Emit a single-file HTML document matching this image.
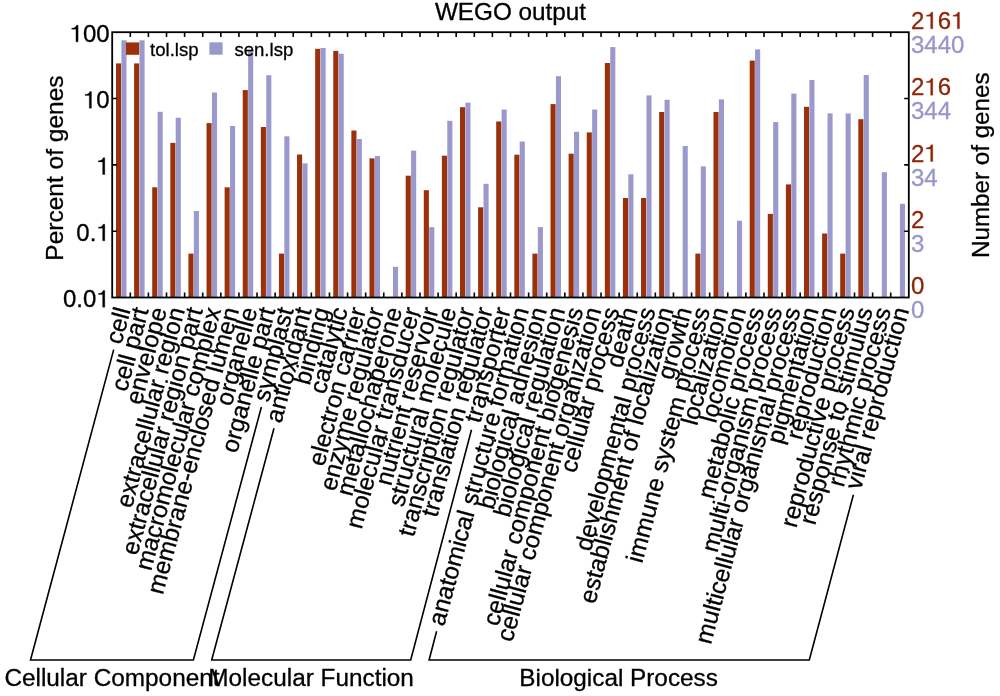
<!DOCTYPE html><html><head><meta charset="utf-8"><style>html,body{margin:0;padding:0;background:#fff;}svg{display:block;will-change:transform;}text{font-family:"Liberation Sans",sans-serif;stroke:#000;stroke-width:0.3;}</style></head><body>
<svg width="1000" height="696" viewBox="0 0 1000 696">
<rect width="1000" height="696" fill="#fff"/>
<rect x="116.00" y="63.4" width="5.1" height="234.1" fill="#9a310b"/>
<rect x="121.40" y="40.3" width="5.1" height="257.2" fill="#9b98cc"/>
<rect x="134.11" y="63.4" width="5.1" height="234.1" fill="#9a310b"/>
<rect x="139.50" y="40.3" width="5.1" height="257.2" fill="#9b98cc"/>
<rect x="152.21" y="187.3" width="5.1" height="110.2" fill="#9a310b"/>
<rect x="157.61" y="111.8" width="5.1" height="185.7" fill="#9b98cc"/>
<rect x="170.31" y="142.9" width="5.1" height="154.6" fill="#9a310b"/>
<rect x="175.71" y="117.7" width="5.1" height="179.8" fill="#9b98cc"/>
<rect x="188.42" y="253.6" width="5.1" height="43.9" fill="#9a310b"/>
<rect x="193.82" y="211.0" width="5.1" height="86.5" fill="#9b98cc"/>
<rect x="206.53" y="123.1" width="5.1" height="174.4" fill="#9a310b"/>
<rect x="211.93" y="92.5" width="5.1" height="205.0" fill="#9b98cc"/>
<rect x="224.63" y="187.3" width="5.1" height="110.2" fill="#9a310b"/>
<rect x="230.03" y="126.0" width="5.1" height="171.5" fill="#9b98cc"/>
<rect x="242.74" y="90.1" width="5.1" height="207.4" fill="#9a310b"/>
<rect x="248.13" y="51.4" width="5.1" height="246.1" fill="#9b98cc"/>
<rect x="260.84" y="127.0" width="5.1" height="170.5" fill="#9a310b"/>
<rect x="266.24" y="75.2" width="5.1" height="222.3" fill="#9b98cc"/>
<rect x="278.94" y="253.6" width="5.1" height="43.9" fill="#9a310b"/>
<rect x="284.34" y="136.3" width="5.1" height="161.2" fill="#9b98cc"/>
<rect x="297.05" y="154.5" width="5.1" height="143.0" fill="#9a310b"/>
<rect x="302.45" y="163.4" width="5.1" height="134.1" fill="#9b98cc"/>
<rect x="315.16" y="48.8" width="5.1" height="248.7" fill="#9a310b"/>
<rect x="320.56" y="48.0" width="5.1" height="249.5" fill="#9b98cc"/>
<rect x="333.26" y="50.9" width="5.1" height="246.6" fill="#9a310b"/>
<rect x="338.66" y="53.7" width="5.1" height="243.8" fill="#9b98cc"/>
<rect x="351.37" y="130.5" width="5.1" height="167.0" fill="#9a310b"/>
<rect x="356.76" y="139.0" width="5.1" height="158.5" fill="#9b98cc"/>
<rect x="369.47" y="158.4" width="5.1" height="139.1" fill="#9a310b"/>
<rect x="374.87" y="156.0" width="5.1" height="141.5" fill="#9b98cc"/>
<rect x="392.97" y="266.8" width="5.1" height="30.7" fill="#9b98cc"/>
<rect x="405.68" y="175.7" width="5.1" height="121.8" fill="#9a310b"/>
<rect x="411.08" y="150.6" width="5.1" height="146.9" fill="#9b98cc"/>
<rect x="423.79" y="190.2" width="5.1" height="107.3" fill="#9a310b"/>
<rect x="429.19" y="227.1" width="5.1" height="70.4" fill="#9b98cc"/>
<rect x="441.89" y="155.7" width="5.1" height="141.8" fill="#9a310b"/>
<rect x="447.29" y="120.8" width="5.1" height="176.7" fill="#9b98cc"/>
<rect x="460.00" y="107.2" width="5.1" height="190.3" fill="#9a310b"/>
<rect x="465.39" y="102.7" width="5.1" height="194.8" fill="#9b98cc"/>
<rect x="478.10" y="207.3" width="5.1" height="90.2" fill="#9a310b"/>
<rect x="483.50" y="183.8" width="5.1" height="113.7" fill="#9b98cc"/>
<rect x="496.20" y="121.5" width="5.1" height="176.0" fill="#9a310b"/>
<rect x="501.60" y="109.5" width="5.1" height="188.0" fill="#9b98cc"/>
<rect x="514.31" y="154.7" width="5.1" height="142.8" fill="#9a310b"/>
<rect x="519.71" y="141.5" width="5.1" height="156.0" fill="#9b98cc"/>
<rect x="532.41" y="253.6" width="5.1" height="43.9" fill="#9a310b"/>
<rect x="537.82" y="227.1" width="5.1" height="70.4" fill="#9b98cc"/>
<rect x="550.52" y="104.1" width="5.1" height="193.4" fill="#9a310b"/>
<rect x="555.92" y="76.2" width="5.1" height="221.3" fill="#9b98cc"/>
<rect x="568.62" y="153.7" width="5.1" height="143.8" fill="#9a310b"/>
<rect x="574.03" y="131.8" width="5.1" height="165.7" fill="#9b98cc"/>
<rect x="586.73" y="132.4" width="5.1" height="165.1" fill="#9a310b"/>
<rect x="592.13" y="109.5" width="5.1" height="188.0" fill="#9b98cc"/>
<rect x="604.84" y="63.0" width="5.1" height="234.5" fill="#9a310b"/>
<rect x="610.24" y="47.1" width="5.1" height="250.4" fill="#9b98cc"/>
<rect x="622.94" y="198.0" width="5.1" height="99.5" fill="#9a310b"/>
<rect x="628.34" y="174.3" width="5.1" height="123.2" fill="#9b98cc"/>
<rect x="641.04" y="198.0" width="5.1" height="99.5" fill="#9a310b"/>
<rect x="646.45" y="95.4" width="5.1" height="202.1" fill="#9b98cc"/>
<rect x="659.15" y="112.0" width="5.1" height="185.5" fill="#9a310b"/>
<rect x="664.55" y="99.8" width="5.1" height="197.7" fill="#9b98cc"/>
<rect x="682.66" y="146.0" width="5.1" height="151.5" fill="#9b98cc"/>
<rect x="695.36" y="253.6" width="5.1" height="43.9" fill="#9a310b"/>
<rect x="700.76" y="166.4" width="5.1" height="131.1" fill="#9b98cc"/>
<rect x="713.47" y="112.0" width="5.1" height="185.5" fill="#9a310b"/>
<rect x="718.87" y="99.4" width="5.1" height="198.1" fill="#9b98cc"/>
<rect x="736.97" y="220.7" width="5.1" height="76.8" fill="#9b98cc"/>
<rect x="749.68" y="60.6" width="5.1" height="236.9" fill="#9a310b"/>
<rect x="755.08" y="49.4" width="5.1" height="248.1" fill="#9b98cc"/>
<rect x="767.78" y="213.9" width="5.1" height="83.6" fill="#9a310b"/>
<rect x="773.18" y="122.1" width="5.1" height="175.4" fill="#9b98cc"/>
<rect x="785.88" y="184.4" width="5.1" height="113.1" fill="#9a310b"/>
<rect x="791.29" y="93.6" width="5.1" height="203.9" fill="#9b98cc"/>
<rect x="803.99" y="106.8" width="5.1" height="190.7" fill="#9a310b"/>
<rect x="809.39" y="80.0" width="5.1" height="217.5" fill="#9b98cc"/>
<rect x="822.10" y="233.5" width="5.1" height="64.0" fill="#9a310b"/>
<rect x="827.50" y="113.4" width="5.1" height="184.1" fill="#9b98cc"/>
<rect x="840.20" y="253.6" width="5.1" height="43.9" fill="#9a310b"/>
<rect x="845.60" y="113.4" width="5.1" height="184.1" fill="#9b98cc"/>
<rect x="858.31" y="119.2" width="5.1" height="178.3" fill="#9a310b"/>
<rect x="863.71" y="75.0" width="5.1" height="222.5" fill="#9b98cc"/>
<rect x="881.81" y="172.2" width="5.1" height="125.3" fill="#9b98cc"/>
<rect x="899.92" y="203.8" width="5.1" height="93.7" fill="#9b98cc"/>
<rect x="112.2" y="32.2" width="796.6" height="265.30" fill="none" stroke="#000" stroke-width="1.8"/>
<path d="M130.31 32.2v4.9M130.31 297.5v-4.9M148.41 32.2v4.9M148.41 297.5v-4.9M166.51 32.2v4.9M166.51 297.5v-4.9M184.62 32.2v4.9M184.62 297.5v-4.9M202.73 32.2v4.9M202.73 297.5v-4.9M220.83 32.2v4.9M220.83 297.5v-4.9M238.94 32.2v4.9M238.94 297.5v-4.9M257.04 32.2v4.9M257.04 297.5v-4.9M275.14 32.2v4.9M275.14 297.5v-4.9M293.25 32.2v4.9M293.25 297.5v-4.9M311.36 32.2v4.9M311.36 297.5v-4.9M329.46 32.2v4.9M329.46 297.5v-4.9M347.56 32.2v4.9M347.56 297.5v-4.9M365.67 32.2v4.9M365.67 297.5v-4.9M383.77 32.2v4.9M383.77 297.5v-4.9M401.88 32.2v4.9M401.88 297.5v-4.9M419.99 32.2v4.9M419.99 297.5v-4.9M438.09 32.2v4.9M438.09 297.5v-4.9M456.19 32.2v4.9M456.19 297.5v-4.9M474.30 32.2v4.9M474.30 297.5v-4.9M492.40 32.2v4.9M492.40 297.5v-4.9M510.51 32.2v4.9M510.51 297.5v-4.9M528.62 32.2v4.9M528.62 297.5v-4.9M546.72 32.2v4.9M546.72 297.5v-4.9M564.83 32.2v4.9M564.83 297.5v-4.9M582.93 32.2v4.9M582.93 297.5v-4.9M601.04 32.2v4.9M601.04 297.5v-4.9M619.14 32.2v4.9M619.14 297.5v-4.9M637.25 32.2v4.9M637.25 297.5v-4.9M655.35 32.2v4.9M655.35 297.5v-4.9M673.46 32.2v4.9M673.46 297.5v-4.9M691.56 32.2v4.9M691.56 297.5v-4.9M709.67 32.2v4.9M709.67 297.5v-4.9M727.77 32.2v4.9M727.77 297.5v-4.9M745.88 32.2v4.9M745.88 297.5v-4.9M763.98 32.2v4.9M763.98 297.5v-4.9M782.09 32.2v4.9M782.09 297.5v-4.9M800.19 32.2v4.9M800.19 297.5v-4.9M818.30 32.2v4.9M818.30 297.5v-4.9M836.40 32.2v4.9M836.40 297.5v-4.9M854.51 32.2v4.9M854.51 297.5v-4.9M872.61 32.2v4.9M872.61 297.5v-4.9M890.72 32.2v4.9M890.72 297.5v-4.9M112.2 98.53h4.6M908.80 98.53h-4.6M112.2 164.85h4.6M908.80 164.85h-4.6M112.2 231.18h4.6M908.80 231.18h-4.6" stroke="#000" stroke-width="1.6" fill="none"/>
<text x="510.5" y="19.8" font-size="24.3" text-anchor="middle">WEGO output</text>
<text x="69.66" y="42.1" font-size="24"> 00</text>
<path transform="translate(69.66,42.10) scale(24,-24)" d="M.262 .01H.352V.705H.285C.26 .628 .195 .585 .085 .58V.535H.262Z" style="fill:#000;stroke:#000;stroke-width:0.0125"/>
<text x="83.00" y="108.4" font-size="24"> 0</text>
<path transform="translate(83.00,108.43) scale(24,-24)" d="M.262 .01H.352V.705H.285C.26 .628 .195 .585 .085 .58V.535H.262Z" style="fill:#000;stroke:#000;stroke-width:0.0125"/>
<text x="96.35" y="174.8" font-size="24"> </text>
<path transform="translate(96.35,174.75) scale(24,-24)" d="M.262 .01H.352V.705H.285C.26 .628 .195 .585 .085 .58V.535H.262Z" style="fill:#000;stroke:#000;stroke-width:0.0125"/>
<text x="76.34" y="241.1" font-size="24">0. </text>
<path transform="translate(96.35,241.08) scale(24,-24)" d="M.262 .01H.352V.705H.285C.26 .628 .195 .585 .085 .58V.535H.262Z" style="fill:#000;stroke:#000;stroke-width:0.0125"/>
<text x="62.99" y="307.4" font-size="24">0.0 </text>
<path transform="translate(96.35,307.40) scale(24,-24)" d="M.262 .01H.352V.705H.285C.26 .628 .195 .585 .085 .58V.535H.262Z" style="fill:#000;stroke:#000;stroke-width:0.0125"/>
<text x="911.00" y="29.1" font-size="24" style="fill:#8e2508;stroke:#8e2508">2 6 </text>
<path transform="translate(924.35,29.10) scale(24,-24)" d="M.262 .01H.352V.705H.285C.26 .628 .195 .585 .085 .58V.535H.262Z" style="fill:#8e2508;stroke:#8e2508;stroke-width:0.0125"/>
<path transform="translate(951.04,29.10) scale(24,-24)" d="M.262 .01H.352V.705H.285C.26 .628 .195 .585 .085 .58V.535H.262Z" style="fill:#8e2508;stroke:#8e2508;stroke-width:0.0125"/>
<text x="911.00" y="53.1" font-size="24" style="fill:#9996c9;stroke:#9996c9">3440</text>
<text x="911.00" y="95.4" font-size="24" style="fill:#8e2508;stroke:#8e2508">2 6</text>
<path transform="translate(924.35,95.43) scale(24,-24)" d="M.262 .01H.352V.705H.285C.26 .628 .195 .585 .085 .58V.535H.262Z" style="fill:#8e2508;stroke:#8e2508;stroke-width:0.0125"/>
<text x="911.00" y="119.4" font-size="24" style="fill:#9996c9;stroke:#9996c9">344</text>
<text x="911.00" y="161.8" font-size="24" style="fill:#8e2508;stroke:#8e2508">2 </text>
<path transform="translate(924.35,161.75) scale(24,-24)" d="M.262 .01H.352V.705H.285C.26 .628 .195 .585 .085 .58V.535H.262Z" style="fill:#8e2508;stroke:#8e2508;stroke-width:0.0125"/>
<text x="911.00" y="185.8" font-size="24" style="fill:#9996c9;stroke:#9996c9">34</text>
<text x="911.00" y="228.1" font-size="24" style="fill:#8e2508;stroke:#8e2508">2</text>
<text x="911.00" y="252.1" font-size="24" style="fill:#9996c9;stroke:#9996c9">3</text>
<text x="911.00" y="294.4" font-size="24" style="fill:#8e2508;stroke:#8e2508">0</text>
<text x="911.00" y="318.4" font-size="24" style="fill:#9996c9;stroke:#9996c9">0</text>
<text transform="translate(62.5,168.1) rotate(-90)" font-size="24.5" text-anchor="middle">Percent of genes</text>
<text transform="translate(988.5,165.2) rotate(-90)" font-size="24.2" text-anchor="middle">Number of genes</text>
<rect x="126" y="42.4" width="13.2" height="12.4" fill="#9a310b"/>
<text x="150" y="56.1" font-size="18.6">tol.lsp</text>
<rect x="209.4" y="42.3" width="13.2" height="12.4" fill="#9b98cc"/>
<text x="234.4" y="56.2" font-size="18.6">sen.lsp</text>
<text transform="translate(130.70,310) rotate(-75)" font-size="24.4" text-anchor="end">cell</text>
<text transform="translate(148.81,310) rotate(-75)" font-size="24.4" text-anchor="end">cell part</text>
<text transform="translate(166.91,310) rotate(-75)" font-size="24.4" text-anchor="end">envelope</text>
<text transform="translate(185.01,310) rotate(-75)" font-size="24.4" text-anchor="end">extracellular region</text>
<text transform="translate(203.12,310) rotate(-75)" font-size="24.4" text-anchor="end">extracellular region part</text>
<text transform="translate(221.23,310) rotate(-75)" font-size="24.4" text-anchor="end">macromolecular complex</text>
<text transform="translate(239.33,310) rotate(-75)" font-size="24.4" text-anchor="end">membrane-enclosed lumen</text>
<text transform="translate(257.44,310) rotate(-75)" font-size="24.4" text-anchor="end">organelle</text>
<text transform="translate(275.54,310) rotate(-75)" font-size="24.4" text-anchor="end">organelle part</text>
<text transform="translate(293.64,310) rotate(-75)" font-size="24.4" text-anchor="end">symplast</text>
<text transform="translate(311.75,310) rotate(-75)" font-size="24.4" text-anchor="end">antioxidant</text>
<text transform="translate(329.86,310) rotate(-75)" font-size="24.4" text-anchor="end">binding</text>
<text transform="translate(347.96,310) rotate(-75)" font-size="24.4" text-anchor="end">catalytic</text>
<text transform="translate(366.06,310) rotate(-75)" font-size="24.4" text-anchor="end">electron carrier</text>
<text transform="translate(384.17,310) rotate(-75)" font-size="24.4" text-anchor="end">enzyme regulator</text>
<text transform="translate(402.27,310) rotate(-75)" font-size="24.4" text-anchor="end">metallochaperone</text>
<text transform="translate(420.38,310) rotate(-75)" font-size="24.4" text-anchor="end">molecular transducer</text>
<text transform="translate(438.49,310) rotate(-75)" font-size="24.4" text-anchor="end">nutrient reservoir</text>
<text transform="translate(456.59,310) rotate(-75)" font-size="24.4" text-anchor="end">structural molecule</text>
<text transform="translate(474.69,310) rotate(-75)" font-size="24.4" text-anchor="end">transcription regulator</text>
<text transform="translate(492.80,310) rotate(-75)" font-size="24.4" text-anchor="end">translation regulator</text>
<text transform="translate(510.90,310) rotate(-75)" font-size="24.4" text-anchor="end">transporter</text>
<text transform="translate(529.01,310) rotate(-75)" font-size="24.4" text-anchor="end">anatomical structure formation</text>
<text transform="translate(547.12,310) rotate(-75)" font-size="24.4" text-anchor="end">biological adhesion</text>
<text transform="translate(565.22,310) rotate(-75)" font-size="24.4" text-anchor="end">biological regulation</text>
<text transform="translate(583.33,310) rotate(-75)" font-size="24.4" text-anchor="end">cellular component biogenesis</text>
<text transform="translate(601.43,310) rotate(-75)" font-size="24.4" text-anchor="end">cellular component organization</text>
<text transform="translate(619.54,310) rotate(-75)" font-size="24.4" text-anchor="end">cellular process</text>
<text transform="translate(637.64,310) rotate(-75)" font-size="24.4" text-anchor="end">death</text>
<text transform="translate(655.75,310) rotate(-75)" font-size="24.4" text-anchor="end">developmental process</text>
<text transform="translate(673.85,310) rotate(-75)" font-size="24.4" text-anchor="end">establishment of localization</text>
<text transform="translate(691.96,310) rotate(-75)" font-size="24.4" text-anchor="end">growth</text>
<text transform="translate(710.06,310) rotate(-75)" font-size="24.4" text-anchor="end">immune system process</text>
<text transform="translate(728.17,310) rotate(-75)" font-size="24.4" text-anchor="end">localization</text>
<text transform="translate(746.27,310) rotate(-75)" font-size="24.4" text-anchor="end">locomotion</text>
<text transform="translate(764.38,310) rotate(-75)" font-size="24.4" text-anchor="end">metabolic process</text>
<text transform="translate(782.48,310) rotate(-75)" font-size="24.4" text-anchor="end">multi-organism process</text>
<text transform="translate(800.59,310) rotate(-75)" font-size="24.4" text-anchor="end">multicellular organismal process</text>
<text transform="translate(818.69,310) rotate(-75)" font-size="24.4" text-anchor="end">pigmentation</text>
<text transform="translate(836.80,310) rotate(-75)" font-size="24.4" text-anchor="end">reproduction</text>
<text transform="translate(854.90,310) rotate(-75)" font-size="24.4" text-anchor="end">reproductive process</text>
<text transform="translate(873.01,310) rotate(-75)" font-size="24.4" text-anchor="end">response to stimulus</text>
<text transform="translate(891.11,310) rotate(-75)" font-size="24.4" text-anchor="end">rhythmic process</text>
<text transform="translate(909.22,310) rotate(-75)" font-size="24.4" text-anchor="end">viral reproduction</text>
<path d="M113.7 349.6L30.5 660L193.4 660L261.4 407" stroke="#000" stroke-width="1.6" fill="none"/>
<path d="M274 428.3L211.7 660L410.7 660L471.5 429.8" stroke="#000" stroke-width="1.6" fill="none"/>
<path d="M436.6 631.3L429.1 660L809.3 660L853.4 494.7" stroke="#000" stroke-width="1.6" fill="none"/>
<text x="4.4" y="686" font-size="24.35">Cellular Component</text>
<text x="311.1" y="686" font-size="24.35" text-anchor="middle">Molecular Function</text>
<text x="618.6" y="686" font-size="24.3" text-anchor="middle">Biological Process</text>
</svg></body></html>
